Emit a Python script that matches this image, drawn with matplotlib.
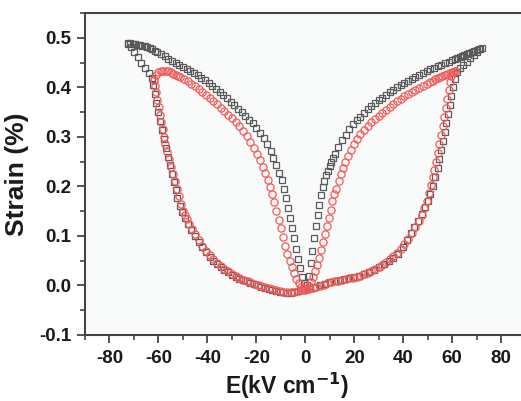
import numpy as np
import matplotlib.pyplot as plt
from matplotlib.ticker import MultipleLocator

# ---- black squares, branch by branch ----
# upper right, field going down from +Emax
bk_ur_E = [72, 71, 70, 69, 68, 67, 66, 65, 64, 63, 62, 61, 60, 58.5, 57, 55.5, 54, 52.5, 51, 49.5, 48,
           46.5, 45, 43.5, 42, 40.5, 39, 37.5, 36, 34.5, 33, 31.5, 30, 28.5, 27, 25.5, 24, 22.5, 21, 19.5,
           18, 16.5, 15, 13.5, 12, 11.3, 10.6, 9.9, 9.2, 8.5, 7.8, 7.1, 6.4, 5.7, 5.0, 4.3, 3.6, 2.9, 2.2,
           1.5, 0.8]
bk_ur_S = [0.480, 0.478, 0.476, 0.474, 0.472, 0.470, 0.467, 0.465, 0.463, 0.461, 0.459, 0.457, 0.455,
           0.452, 0.449, 0.446, 0.443, 0.439, 0.436, 0.432, 0.428, 0.424, 0.421, 0.417, 0.413, 0.409,
           0.404, 0.400, 0.395, 0.390, 0.385, 0.379, 0.374, 0.368, 0.362, 0.356, 0.349, 0.341, 0.333,
           0.325, 0.315, 0.304, 0.293, 0.280, 0.265, 0.257, 0.249, 0.241, 0.232, 0.222, 0.211, 0.198,
           0.182, 0.163, 0.143, 0.121, 0.096, 0.070, 0.045, 0.020, 0.000]
# lower right, field going up to +Emax
bk_lr_E = [0, 2, 4, 6, 8, 10, 12, 14, 16, 18, 20, 22, 24, 26, 28, 30, 32, 34, 36, 38, 40, 41.5, 43, 44.5,
           46, 47.5, 49, 50, 51, 52, 53, 54, 54.8, 55.5, 56.2, 56.9, 57.5, 58.2, 58.9, 59.6, 60.3, 61, 62,
           63.3, 64.6, 66, 67.4, 68.8, 70.2, 71.5]
bk_lr_S = [-0.008, -0.006, -0.003, 0.000, 0.003, 0.006, 0.009, 0.011, 0.013, 0.015, 0.017, 0.019, 0.023,
           0.027, 0.032, 0.037, 0.043, 0.049, 0.056, 0.063, 0.077, 0.091, 0.105, 0.118, 0.130, 0.144,
           0.158, 0.170, 0.184, 0.200, 0.218, 0.238, 0.256, 0.274, 0.292, 0.310, 0.328, 0.346, 0.364,
           0.382, 0.400, 0.416, 0.430, 0.438, 0.445, 0.452, 0.459, 0.466, 0.472, 0.478]
# upper left, field coming back from -Emax
bk_ul_E = [-72.5, -71.5, -70.5, -69.5, -68.5, -67.5, -66.5, -65.5, -64.5, -63.5, -62.5, -61.5, -60.5, -59,
           -57.5, -56, -54.5, -53, -51.5, -50, -48.5, -47, -45.5, -44, -42.5, -41, -39.5, -38, -36.5, -35,
           -33.5, -32, -30.5, -29, -27.5, -26, -24.5, -23, -21.5, -20, -18.5, -17, -15.5, -14.2, -13,
           -11.8, -10.7, -9.7, -8.7, -7.8, -7.0, -6.2, -5.4, -4.6, -3.8, -3.0, -2.2, -1.4, -0.7]
bk_ul_S = [0.489, 0.489, 0.488, 0.487, 0.486, 0.485, 0.484, 0.483, 0.481, 0.479, 0.477, 0.474, 0.471,
           0.467, 0.463, 0.458, 0.453, 0.449, 0.445, 0.441, 0.437, 0.432, 0.428, 0.424, 0.419, 0.414,
           0.409, 0.403, 0.397, 0.391, 0.385, 0.378, 0.371, 0.364, 0.357, 0.350, 0.343, 0.335, 0.327,
           0.318, 0.308, 0.297, 0.285, 0.272, 0.258, 0.243, 0.228, 0.212, 0.194, 0.176, 0.157, 0.137,
           0.116, 0.095, 0.074, 0.054, 0.035, 0.018, 0.004]
# lower left, field going down to -Emax
bk_ll_E = [0, -1.5, -3, -4.5, -6, -7.5, -9, -10.5, -12, -13.5, -15, -16.5, -18, -19.5, -21, -22.5, -24,
           -25.5, -27, -28.5, -30, -31.5, -33, -34.5, -36, -37.5, -39, -40.5, -42, -43.5, -45, -46.5, -48,
           -49.2, -50.3, -51.3, -52.2, -53, -53.8, -54.6, -55.4, -56.2, -57, -57.8, -58.6, -59.4, -60.2,
           -60.9, -61.5, -62, -62.7, -64, -65.5, -67, -68.5, -70, -71.3, -72.5]
bk_ll_S = [-0.008, -0.010, -0.012, -0.014, -0.015, -0.015, -0.014, -0.013, -0.011, -0.009, -0.007,
           -0.005, -0.003, 0.000, 0.002, 0.005, 0.008, 0.011, 0.014, 0.018, 0.022, 0.027, 0.032, 0.037,
           0.043, 0.050, 0.058, 0.067, 0.077, 0.088, 0.100, 0.112, 0.124, 0.136, 0.148, 0.161, 0.176,
           0.192, 0.208, 0.225, 0.243, 0.260, 0.278, 0.296, 0.314, 0.332, 0.350, 0.368, 0.386, 0.404,
           0.418, 0.428, 0.438, 0.450, 0.461, 0.472, 0.481, 0.488]

# ---- red circles ----
rd_ur_E = [61, 60, 59, 58, 57, 56, 55, 54, 53, 52, 51, 49.5, 48, 46.5, 45, 43.5, 42, 40.5, 39, 37.5, 36,
           34.5, 33, 31.5, 30, 28.5, 27, 25.5, 24, 22.5, 21, 19.7, 18.5, 17.4, 16.4, 15.4, 14.5, 13.6, 12.7,
           11.9, 11.1, 10.3, 9.5, 8.7, 7.9, 7.1, 6.3, 5.5, 4.7, 3.9, 3.1, 2.3, 1.5, 0.7]
rd_ur_S = [0.432, 0.431, 0.429, 0.427, 0.425, 0.423, 0.421, 0.419, 0.416, 0.413, 0.410, 0.406, 0.402,
           0.398, 0.394, 0.390, 0.386, 0.382, 0.377, 0.372, 0.367, 0.361, 0.355, 0.349, 0.343, 0.337,
           0.330, 0.322, 0.314, 0.305, 0.295, 0.285, 0.274, 0.262, 0.250, 0.237, 0.224, 0.210, 0.195,
           0.184, 0.170, 0.153, 0.137, 0.120, 0.103, 0.087, 0.071, 0.056, 0.042, 0.029, 0.017, 0.007,
           -0.001, -0.007]
rd_lr_E = [0, 1.5, 3, 4.5, 6, 7.5, 9, 10.5, 12, 13.5, 15, 16.5, 18, 19.5, 21, 22.5, 24, 25.5, 27, 28.5, 30,
           31.5, 33, 34.5, 36, 37.5, 39, 40.5, 42, 43.5, 45, 46.3, 47.5, 48.6, 49.6, 50.5, 51.3, 52, 52.7,
           53.4, 54.1, 54.8, 55.5, 56.1, 56.7, 57.3, 57.9, 58.5, 59.1, 59.7, 60.4, 61]
rd_lr_S = [-0.009, -0.007, -0.005, -0.003, -0.001, 0.001, 0.004, 0.006, 0.008, 0.010, 0.012, 0.013,
           0.015, 0.016, 0.018, 0.020, 0.023, 0.026, 0.029, 0.033, 0.037, 0.042, 0.047, 0.053, 0.059,
           0.066, 0.074, 0.083, 0.094, 0.106, 0.118, 0.130, 0.143, 0.157, 0.171, 0.186, 0.202, 0.218,
           0.234, 0.250, 0.267, 0.285, 0.303, 0.321, 0.340, 0.358, 0.376, 0.394, 0.410, 0.422, 0.430,
           0.432]
rd_ul_E = [-61.8, -61, -60, -59, -58, -57, -56, -55, -54, -53, -52, -51, -49.5, -48, -46.5, -45, -43.5,
           -42, -40.5, -39, -37.5, -36, -34.5, -33, -31.5, -30, -28.5, -27, -25.5, -24, -22.5, -21, -19.7,
           -18.5, -17.4, -16.4, -15.4, -14.5, -13.6, -12.7, -11.8, -10.9, -10, -9.1, -8.2, -7.3, -6.4,
           -5.5, -4.6, -3.7, -2.7, -1.7, -0.8]
rd_ul_S = [0.415, 0.424, 0.430, 0.432, 0.433, 0.433, 0.432, 0.430, 0.427, 0.425, 0.423, 0.420, 0.416,
           0.412, 0.407, 0.402, 0.397, 0.391, 0.385, 0.379, 0.372, 0.366, 0.359, 0.352, 0.345, 0.338,
           0.330, 0.321, 0.311, 0.301, 0.290, 0.278, 0.266, 0.253, 0.240, 0.227, 0.213, 0.199, 0.184,
           0.168, 0.151, 0.133, 0.115, 0.097, 0.080, 0.064, 0.050, 0.037, 0.025, 0.014, 0.005, -0.003,
           -0.008]
rd_ll_E = [0, -1.5, -3, -4.5, -6, -7.5, -9, -10.5, -12, -13.5, -15, -16.5, -18, -19.5, -21, -22.5, -24,
           -25.5, -27, -28.5, -30, -31.5, -33, -34.5, -36, -37.5, -39, -40.5, -42, -43.5, -45, -46.2,
           -47.3, -48.3, -49.2, -50, -50.8, -51.6, -52.4, -53.2, -54, -54.8, -55.6, -56.4, -57.1, -57.7,
           -58.3, -58.9, -59.4, -59.9, -60.4, -60.9, -61.4, -61.8]
rd_ll_S = [-0.008, -0.010, -0.012, -0.013, -0.014, -0.014, -0.013, -0.012, -0.010, -0.008, -0.006,
           -0.004, -0.002, 0.000, 0.003, 0.006, 0.009, 0.012, 0.016, 0.020, 0.024, 0.029, 0.034, 0.040,
           0.046, 0.053, 0.061, 0.070, 0.080, 0.091, 0.103, 0.113, 0.124, 0.134, 0.142, 0.150, 0.165,
           0.180, 0.195, 0.210, 0.225, 0.240, 0.255, 0.270, 0.285, 0.300, 0.315, 0.330, 0.345, 0.360,
           0.375, 0.390, 0.403, 0.415]

plt.rcParams['font.family'] = ['Liberation Sans', 'DejaVu Sans']
plt.rcParams['font.weight'] = 'bold'

fig = plt.figure(figsize=(5.21, 4.01), dpi=100)
ax = fig.add_axes([0.163, 0.1646, 0.846, 0.803])
ax.set_facecolor('#f9fafa')

black_E = bk_ur_E + bk_lr_E + bk_ul_E + bk_ll_E
black_S = bk_ur_S + bk_lr_S + bk_ul_S + bk_ll_S
red_E = rd_ur_E + rd_lr_E + rd_ul_E + rd_ll_E
red_S = rd_ur_S + rd_lr_S + rd_ul_S + rd_ll_S

ax.plot(black_E, black_S, ls='none', marker='s', ms=4.6, mfc='none', mec='#5a5a5a', mew=0.9)
ax.plot(red_E, red_S, ls='none', marker='o', ms=5.2, mfc='none', mec='#f25a5a', mew=0.9)

ax.set_xlim(-90, 90)
ax.set_ylim(-0.1, 0.55)
ax.xaxis.set_minor_locator(MultipleLocator(10))
ax.yaxis.set_minor_locator(MultipleLocator(0.05))
ax.set_xticks([-80, -60, -40, -20, 0, 20, 40, 60, 80])
ax.set_xticklabels(['-80', '-60', '-40', '-20', '0', '20', '40', '60', '80'])
ax.set_yticks([-0.1, 0.0, 0.1, 0.2, 0.3, 0.4, 0.5])
ax.set_yticklabels(['-0.1', '0.0', '0.1', '0.2', '0.3', '0.4', '0.5'])

for s in ax.spines.values():
    s.set_linewidth(1.5)
    s.set_color('#444444')
ax.tick_params(which='major', direction='out', length=6, width=1.3, colors='#444444',
               labelsize=13.5, labelcolor='#1a1a1a')
ax.tick_params(which='minor', direction='out', length=3.5, width=1.2, colors='#444444')
ax.tick_params(axis='x', pad=5)

ax.set_xlabel('E(kV cm$^{\\mathbf{-1}}$)', fontsize=16.5, fontweight='bold', color='#1a1a1a')
ax.xaxis.set_label_coords(0.458, -0.112)
ax.set_ylabel('Strain (%)', fontsize=19, fontweight='bold', color='#1a1a1a')
ax.yaxis.set_label_coords(-0.128, 0.5)

fig.savefig('out.png', dpi=100, facecolor='white')
